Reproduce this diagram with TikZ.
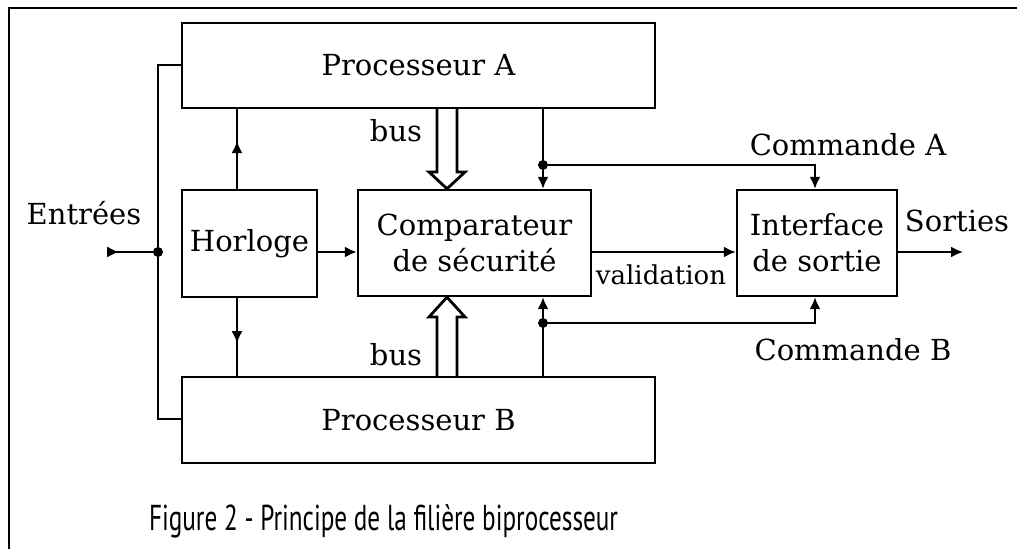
\documentclass[tikz,border=0pt]{standalone}
\usepackage{fontspec}
\setmainfont{DejaVu Serif}
\newfontfamily\capfont[FakeStretch=0.7]{PT Sans}
\usetikzlibrary{arrows.meta,decorations.markings}
\begin{document}
\begin{tikzpicture}[x=0.5pt, y=0.5pt,
	box/.style={draw, line width=1.2pt, inner sep=0pt, align=center,
		font=\fontsize{14.5}{18}\selectfont},
	wire/.style={line width=1pt},
	tip/.style={-{Latex[length=6pt,width=5.5pt]}},
	midarrow/.style={postaction={decorate}, decoration={markings,
		mark=at position #1 with {\arrow{Latex[length=6pt,width=5.5pt]}}}},
	lbl/.style={font=\fontsize{14.5}{18}\selectfont},
	dot/.style={circle, fill, inner sep=0pt, minimum size=5pt},
	busarrow/.style={line width=1.4pt, line join=miter}]
	\useasboundingbox (0,0) rectangle (1017,549);
	\draw [line width=1.2pt] (9,0) -- (9,541) -- (1017,541);
	\node [box, minimum width=236.5pt, minimum height=42.5pt] (procA) at (418.5,483.5) {Processeur A};
	\node [box, minimum width=236.5pt, minimum height=43pt] (procB) at (418.5,129) {Processeur B};
	\node [box, minimum width=67.5pt, minimum height=53.5pt] (horloge) at (249.5,305.5) {Horloge};
	\node [box, minimum width=116.5pt, minimum height=53pt] (comp) at (474.5,306) {Comparateur\\de sécurité};
	\node [box, minimum width=80pt, minimum height=53pt] (iface) at (817,306) {Interface\\de sortie};
	\coordinate (sig) at (0,297);
	\coordinate (clk) at (237,0);
	\coordinate (cmd) at (543,0);
	\coordinate (itf) at (815,0);
	\coordinate (in) at (108,297);
	\coordinate (out) at (963,297);
	\node [dot] (jIn) at (158,297) {};
	\node [dot] (jA) at (543,384) {};
	\node [dot] (jB) at (543,226) {};
	\draw [wire] (procA.west |- 0,484) -- (158,484) -- (jIn) -- (158,130) -- (procB.west |- 0,130);
	\draw [wire, midarrow=0.25] (in) -- (jIn);
	\draw [wire, midarrow=0.6] (horloge.north -| clk) -- (procA.south -| clk);
	\draw [wire, midarrow=0.58] (horloge.south -| clk) -- (procB.north -| clk);
	\draw [wire, tip] (horloge.east |- sig) -- (comp.west |- sig);
	\draw [wire, tip] (comp.east |- sig) -- (iface.west |- sig);
	\draw [wire, tip] (iface.east |- sig) -- (out);
	\draw [wire, tip] (procA.south -| cmd) -- (comp.north -| cmd);
	\draw [wire, tip] (jA) -- (jA -| itf) -- (iface.north -| itf);
	\draw [wire, tip] (procB.north -| cmd) -- (comp.south -| cmd);
	\draw [wire, tip] (jB) -- (jB -| itf) -- (iface.south -| itf);
	\draw [busarrow] (procA.south -| 437,0) -- (437,377) -- (429,377) -- (comp.north -| 447,0)
		-- (465,377) -- (457,377) -- (procA.south -| 457,0);
	\draw [busarrow] (procB.north -| 437,0) -- (437,232) -- (429,232) -- (comp.south -| 447,0)
		-- (465,232) -- (457,232) -- (procB.north -| 457,0);
	\node [lbl] (busA) at (396,418) {bus};
	\node [lbl] (busB) at (396,194) {bus};
	\node [lbl] (entrees) at (84,336) {Entrées};
	\node [lbl] (sorties) at (957,328) {Sorties};
	\node [lbl] (cmdA) at (848,404) {Commande A};
	\node [lbl] (cmdB) at (853,199) {Commande B};
	\node [font=\fontsize{13}{16}\selectfont] (valid) at (661,274) {validation};
	\node [font=\capfont\fontsize{18}{22}\selectfont, anchor=west] (caption) at (142,28)
		{Figure 2 - Principe de la filière biprocesseur};
\end{tikzpicture}
\end{document}
